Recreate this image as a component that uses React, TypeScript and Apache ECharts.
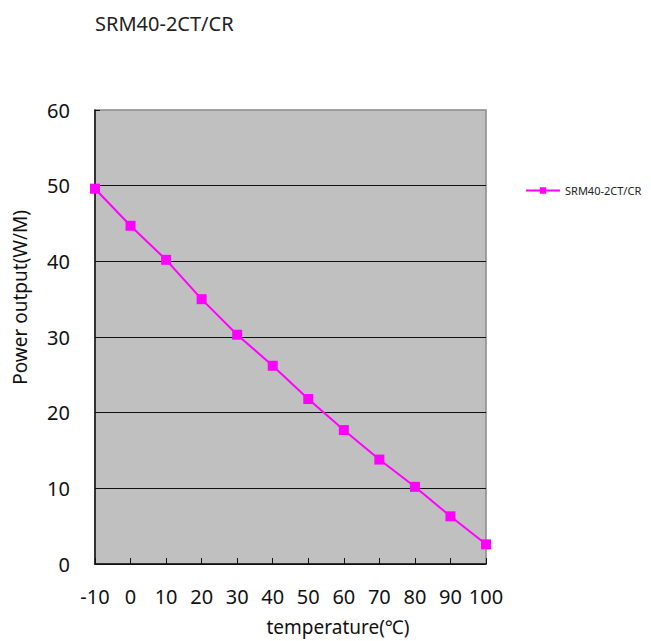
import React, { useEffect, useRef } from "react";
import * as echarts from "echarts";

const temperatures = [-10, 0, 10, 20, 30, 40, 50, 60, 70, 80, 90, 100];
const powerOutput = [49.6, 44.7, 40.2, 35.0, 30.3, 26.2, 21.8, 17.7, 13.8, 10.2, 6.3, 2.6];
const seriesName = "SRM40-2CT/CR";
const chartTitle = "SRM40-2CT/CR";
const xAxisName = "temperature(℃)";
const yAxisName = "Power output(W/M)";

const FONT = "'Noto Sans', 'DejaVu Sans', sans-serif";

export default function App() {
  const ref = useRef<HTMLDivElement>(null);
  useEffect(() => {
    if (!ref.current) return;
    const chart = echarts.init(ref.current, null, { renderer: "svg" });
    chart.setOption({
      animation: false,
      backgroundColor: "#ffffff",
      title: {
        text: chartTitle,
        left: 82,
        top: 0,
        textStyle: { fontFamily: FONT, fontSize: 20, fontWeight: "normal", color: "#222" },
      },
      legend: {
        left: 512,
        top: 172,
        orient: "vertical",
        itemWidth: 34,
        itemHeight: 8,
        itemGap: 4,
        textStyle: { fontFamily: FONT, fontSize: 11, color: "#222" },
        data: [seriesName],
      },
      grid: {
        left: 87,
        right: 165,
        top: 102,
        bottom: 77,
        show: true,
        backgroundColor: "#C0C0C0",
        borderColor: "#888888",
        borderWidth: 1.5,
      },
      xAxis: {
        type: "value",
        min: -10,
        max: 100,
        interval: 10,
        axisLine: { show: true, onZero: false, lineStyle: { color: "#111", width: 1.5 } },
        axisTick: { show: true, inside: true, length: 6, lineStyle: { color: "#111" } },
        axisLabel: { fontFamily: FONT, fontSize: 20, color: "#111", margin: 22 },
        splitLine: { show: false },
      },
      yAxis: {
        type: "value",
        min: 0,
        max: 60,
        interval: 10,
        axisLine: { show: true, onZero: false, lineStyle: { color: "#111", width: 1.5 } },
        axisTick: { show: true, inside: true, length: 5, lineStyle: { color: "#111" } },
        axisLabel: { fontFamily: FONT, fontSize: 20, color: "#111", margin: 25 },
        splitLine: {
          show: true,
          lineStyle: { color: ["#111", "#111", "#111", "#111", "#111", "#111", "#999"], width: 1 },
        },
      },
      graphic: [
        {
          type: "text",
          left: 2,
          top: 202,
          rotation: Math.PI / 2,
          style: {
            text: yAxisName,
            fontFamily: FONT,
            fontSize: 19,
            fill: "#111",
          },
        },
        {
          type: "text",
          x: 330,
          y: 619,
          style: {
            text: xAxisName,
            fontFamily: FONT,
            fontSize: 19,
            fill: "#111",
            align: "center",
            verticalAlign: "middle",
          },
        },
      ],
      series: [
        {
          name: seriesName,
          type: "line",
          data: temperatures.map((t, i) => [t, powerOutput[i]]),
          symbol: "rect",
          symbolSize: 10,
          lineStyle: { color: "#FF00FF", width: 2 },
          itemStyle: { color: "#FF00FF" },
          clip: false,
        },
      ],
    });
    return () => chart.dispose();
  }, []);
  return <div ref={ref} style={{ width: 643, height: 633 }} />;
}
